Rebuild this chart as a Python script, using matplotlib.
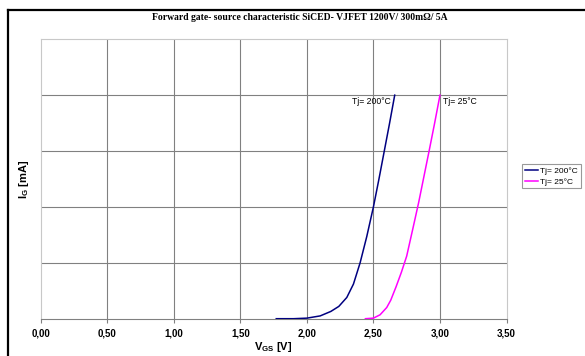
import matplotlib
matplotlib.use("Agg")
import matplotlib.pyplot as plt
from matplotlib.lines import Line2D

# Data
v_200 = [1.77, 1.90, 2.00, 2.10, 2.18, 2.24, 2.30, 2.35, 2.40, 2.45, 2.50, 2.54, 2.58, 2.62, 2.66]
i_200 = [0.0, 0.0, 0.01, 0.05, 0.13, 0.22, 0.38, 0.62, 1.00, 1.47, 2.00, 2.48, 2.98, 3.48, 4.00]

v_25 = [2.44, 2.50, 2.55, 2.60, 2.63, 2.67, 2.71, 2.75, 2.80, 2.84, 2.88, 2.92, 2.96, 3.00]
i_25 = [0.0, 0.01, 0.07, 0.20, 0.33, 0.57, 0.83, 1.12, 1.65, 2.08, 2.55, 3.02, 3.50, 4.00]

x_ticks = [0.0, 0.5, 1.0, 1.5, 2.0, 2.5, 3.0, 3.5]
x_tick_labels = ["0,00", "0,50", "1,00", "1,50", "2,00", "2,50", "3,00", "3,50"]
y_grid = [0, 1, 2, 3, 4, 5]

series_labels = ["Tj= 200°C", "Tj= 25°C"]
title = "Forward gate- source characteristic SiCED- VJFET 1200V/ 300mΩ/ 5A"

fig = plt.figure(figsize=(5.85, 3.56), dpi=100)
fig.patch.set_facecolor("white")
ax = fig.add_axes([40.7/585, 1-318.7/356, (506.5-40.7)/585, (318.7-39.3)/356])

grid_c = "#808080"
ax.set_xlim(0, 3.5)
ax.set_ylim(0, 5)
for y in y_grid[1:-1]:
    ax.axhline(y, color=grid_c, lw=0.8, zorder=1)
for x in x_ticks[1:-1]:
    ax.axvline(x, color=grid_c, lw=0.8, zorder=1)

ax.plot(v_200, i_200, color="#000080", lw=1.1, label=series_labels[0], zorder=3)
ax.plot(v_25, i_25, color="#FF00FF", lw=1.1, label=series_labels[1], zorder=3)

ax.set_xticks(x_ticks)
ax.set_xticklabels(x_tick_labels, fontsize=7, fontweight="bold", family="Liberation Sans")
ax.set_yticks([])
ax.tick_params(axis="x", direction="out", length=3, width=0.8, color=grid_c, pad=4)

for s in ["left", "top", "right"]:
    ax.spines[s].set_color("#c8c8c8")
    ax.spines[s].set_linewidth(0.8)
ax.spines["bottom"].set_color(grid_c)
ax.spines["bottom"].set_linewidth(0.8)

ax.set_xlabel("V$_{\\mathregular{GS}}$ [V]", fontsize=8, fontweight="bold", family="Liberation Sans", labelpad=1)
ax.set_ylabel("I$_{\\mathregular{G}}$ [mA]", fontsize=8, fontweight="bold", family="Liberation Sans", labelpad=7)

ax.text(v_200[-1] - 0.03, i_200[-1] - 0.03, series_labels[0], ha="right", va="top",
        fontsize=6.2, family="Liberation Sans")
ax.text(v_25[-1] + 0.02, i_25[-1] - 0.03, series_labels[1], ha="left", va="top",
        fontsize=6.2, family="Liberation Sans")

leg = fig.legend(loc="upper left", bbox_to_anchor=(521.7/585, 1-164/356),
                 prop={"family": "Liberation Sans", "size": 6},
                 frameon=True, fancybox=False, edgecolor="#808080", handlelength=1.6,
                 borderpad=0.35, labelspacing=0.35, handletextpad=0.3, borderaxespad=0)
leg.get_frame().set_linewidth(0.8)

fig.text(300/585, 1-17/356, title, ha="center", va="center", fontsize=6.9,
         fontweight="bold", family="Liberation Serif")

# black outer frame (left and top)
fig.add_artist(Line2D([8/585, 8/585], [0, 1-10/356], color="black", lw=1.6, transform=fig.transFigure))
fig.add_artist(Line2D([8/585, 1], [1-10/356, 1-10/356], color="black", lw=1.6, transform=fig.transFigure))

fig.savefig("out.png", dpi=100)
